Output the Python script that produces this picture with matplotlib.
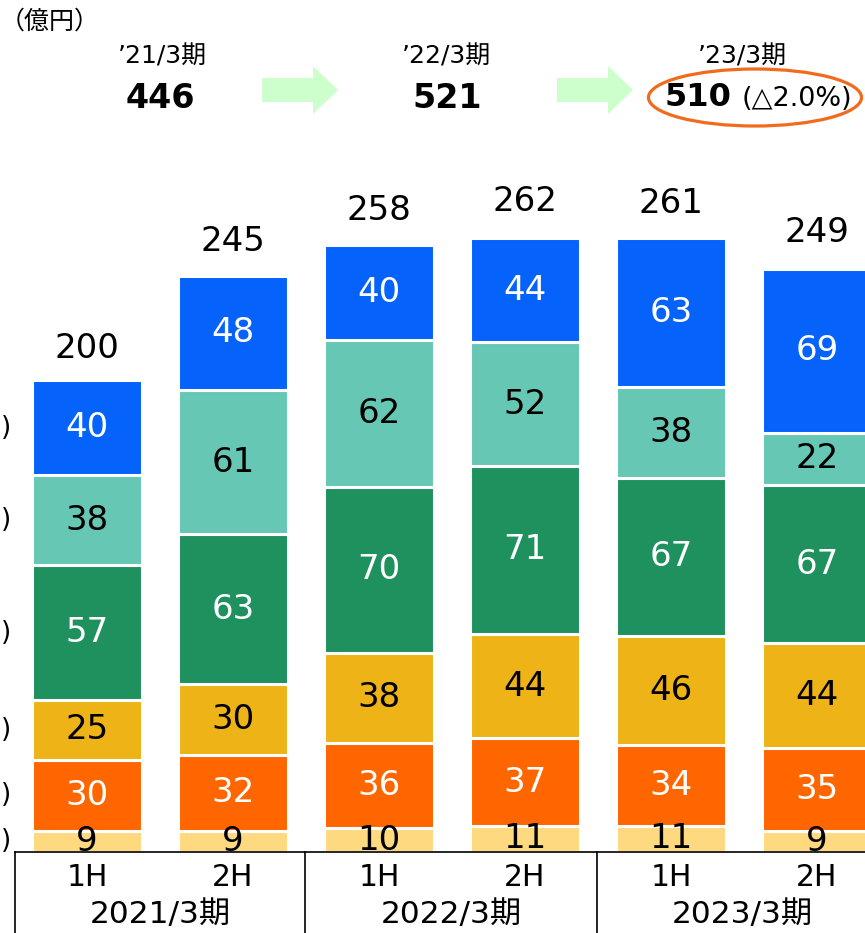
import matplotlib
matplotlib.use("Agg")
from matplotlib import pyplot as plt
from matplotlib.patches import Polygon, Ellipse
import numpy as np

# Wide latin digits from DejaVu, Japanese glyphs from Noto CJK
plt.rcParams['font.family'] = ['DejaVu Sans', 'Noto Sans CJK JP']

# Data
halves = ['1H', '2H', '1H', '2H', '1H', '2H']
years = ['2021/3期', '2022/3期', '2023/3期']
seg_bottom = [9, 9, 10, 11, 11, 9]       # light yellow
seg_orange = [30, 32, 36, 37, 34, 35]
seg_gold = [25, 30, 38, 44, 46, 44]
seg_green = [57, 63, 70, 71, 67, 67]
seg_teal = [38, 61, 62, 52, 38, 22]
seg_blue = [40, 48, 40, 44, 63, 69]
totals = [200, 245, 258, 262, 261, 249]

head_years = ['’21/3期', '’22/3期', '’23/3期']
head_values = ['446', '521', '510']
head_change = '(△2.0%)'

series = [seg_bottom, seg_orange, seg_gold, seg_green, seg_teal, seg_blue]
colors = ['#FFD97F', '#FF6600', '#EDB317', '#1F915F', '#66C8B4', '#0562FB']
text_colors = ['black', 'white', 'black', 'white', 'black', 'white']

W, H = 865, 933
PX_PER_UNIT = 2.37
fig = plt.figure(figsize=(W / 100, H / 100), dpi=100)


def fx(px):
    return px / W


def fy(py):
    return 1 - py / H


# Bars area (pixel layout: bar centers at 87 + 146*i, base at y=852)
ax = fig.add_axes([0, fy(852), 1, 852 / H])
ax.set_xlim(-87 / 146, (W - 87) / 146)
ax.set_ylim(0, 852 / PX_PER_UNIT)
ax.axis('off')

x = np.arange(len(halves))
bottom = np.zeros(len(halves))
for vals, col, tcol in zip(series, colors, text_colors):
    vals = np.array(vals)
    ax.bar(x, vals, 0.75, bottom=bottom, color=col, edgecolor='white', linewidth=2.2)
    for xi, b, v in zip(x, bottom, vals):
        ax.text(xi, b + v / 2, str(v), ha='center', va='center', fontsize=24.5,
                color=tcol)
    bottom += vals

for xi, t in zip(x, totals):
    ax.text(xi, t + 12.5, str(t), ha='center', va='center', fontsize=24.5)

# Cropped legend brackets on the left edge
ycent = np.cumsum([0] + [s[0] for s in series[:-1]]) + np.array([s[0] for s in series]) / 2
for yc in ycent:
    fig.text(fx(6), fy(852 - yc * PX_PER_UNIT), ')', ha='center', va='center',
             fontsize=19)

# Category table under the bars
fig.add_artist(plt.Line2D([fx(15), 1], [fy(852), fy(852)], color='black', lw=1.2))
for px in [15, 305, 597]:
    fig.add_artist(plt.Line2D([fx(px), fx(px)], [fy(852), 0], color='black', lw=1.2))
for i, lab in enumerate(halves):
    fig.text(fx(87 + 146 * i), fy(877), lab, ha='center', va='center', fontsize=21.5)
for i, lab in enumerate(years):
    fig.text(fx(160 + 291 * i), fy(914), lab, ha='center', va='center', fontsize=22.5)

# Header
fig.text(fx(0), fy(22), '（億円）', ha='left', va='center', fontsize=18)
head_x = [162, 447, 742]
for hx, ylab in zip(head_x, head_years):
    fig.text(fx(hx), fy(56), ylab, ha='center', va='center', fontsize=18)
fig.text(fx(160), fy(98), head_values[0], ha='center', va='center', fontsize=24,
         fontweight='bold')
fig.text(fx(447), fy(98), head_values[1], ha='center', va='center', fontsize=24,
         fontweight='bold')
fig.text(fx(698), fy(98), head_values[2], ha='center', va='center', fontsize=23,
         fontweight='bold')
fig.text(fx(797), fy(99), head_change, ha='center', va='center', fontsize=19.5)

# Arrows
for ax0, hx, ax1 in [(262, 313, 338), (557, 608, 633)]:
    pts = [(ax0, 78), (hx, 78), (hx, 66), (ax1, 90), (hx, 114), (hx, 102), (ax0, 102)]
    fig.add_artist(Polygon([(fx(a), fy(b)) for a, b in pts], closed=True,
                           facecolor='#CCFFCC', edgecolor='none'))

# Highlight ellipse
fig.add_artist(Ellipse((fx(755), fy(97.5)), 213 / W, 57 / H, facecolor='none',
                       edgecolor='#F26A1B', linewidth=2.3))

plt.savefig('out.png', dpi=100)
